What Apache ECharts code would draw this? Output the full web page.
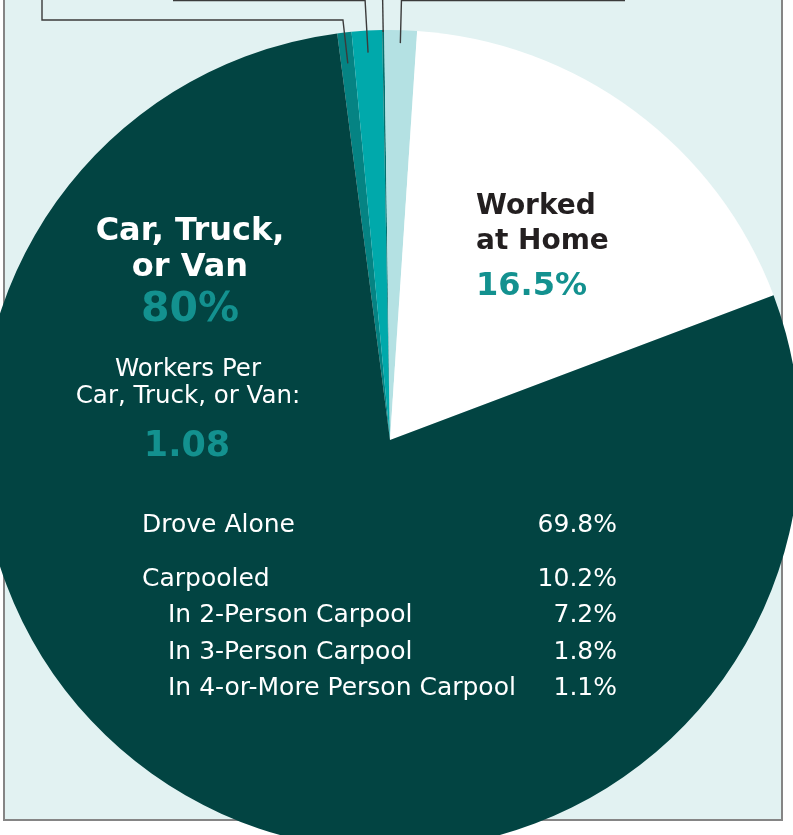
<!DOCTYPE html>
<html>
<head>
<meta charset="utf-8">
<script src="https://cdn.jsdelivr.net/npm/echarts@6/dist/echarts.min.js"></script>
<style>
  html, body { margin: 0; padding: 0; background: #fff; }
  #main { width: 793px; height: 835px; }
</style>
</head>
<body>
<div id="main"></div>
<script>
// slice shares as drawn in the picture (clockwise from just left of 12 o'clock)
const modes = ['Public Transportation', 'Walked', 'Bicycle', 'Taxi, Motorcycle, or Other', 'Worked at Home', 'Car, Truck, or Van'];
const shares = [0.56, 1.19, 0.08, 1.28, 18.2, 78.7];
const sliceColors = ['#058383', '#00a9ab', '#05706f', '#b4e1e3', '#ffffff', '#024442'];

// printed labels
const carLabel = ['Car, Truck,', 'or Van'];
const carPct = '80%';
const homeLabel = ['Worked', 'at Home'];
const homePct = '16.5%';
const perCarLabel = ['Workers Per', 'Car, Truck, or Van:'];
const perCarValue = '1.08';
const breakdownLabels = ['Drove Alone', 'Carpooled', 'In 2-Person Carpool', 'In 3-Person Carpool', 'In 4-or-More Person Carpool'];
const breakdownValues = ['69.8%', '10.2%', '7.2%', '1.8%', '1.1%'];
const breakdownIndent = [false, false, true, true, true];

const cx = 390, cy = 440, R = 410, startDeg = -7.4;
const FONT = '"DejaVu Sans", sans-serif';

let chart = echarts.init(document.getElementById('main'), null, { renderer: 'canvas' });

// mid angle of each slice, degrees clockwise from top
const total = shares.reduce((a, b) => a + b, 0);
let acc = 0;
const mids = shares.map(v => {
  const m = startDeg + (acc + v / 2) / total * 360;
  acc += v;
  return m;
});
const onRay = (deg, r) => {
  const a = deg * Math.PI / 180;
  return [cx + r * Math.sin(a), cy - r * Math.cos(a)];
};
const atY = (deg, y) => onRay(deg, (cy - y) / Math.cos(deg * Math.PI / 180));

const leaderStyle = { stroke: '#3b3b3b', lineWidth: 1.4, fill: null };
const leaders = [
  [onRay(mids[0], 379), atY(mids[0], 20), [42, 20], [42, -5]],
  [onRay(mids[1], 388), atY(mids[1], 0.5), [173, 0.5]],
  [onRay(mids[2], R - 2), atY(mids[2], -5)],
  [onRay(mids[3], 397), atY(mids[3], 0.5), [625, 0.5]]
].map(pts => ({ type: 'polyline', z: 100, silent: true, shape: { points: pts }, style: leaderStyle }));

const txt = (text, x, y, size, color, weight, align) => ({
  type: 'text', z: 100, silent: true, x: x, y: y,
  style: {
    text: text, fill: color, fontSize: size, fontWeight: weight, fontFamily: FONT,
    textAlign: align || 'center', textVerticalAlign: 'middle'
  }
});

const texts = [
  txt(carLabel[0], 190, 232, 32, '#ffffff', 'bold'),
  txt(carLabel[1], 190, 268, 32, '#ffffff', 'bold'),
  txt(carPct, 190, 310, 41, '#13918f', 'bold'),
  txt(perCarLabel[0], 188, 370, 24.5, '#ffffff', 'normal'),
  txt(perCarLabel[1], 188, 397, 24.5, '#ffffff', 'normal'),
  txt(perCarValue, 187, 447, 35, '#13918f', 'bold'),
  txt(homeLabel[0], 476, 207, 28, '#231f20', 'bold', 'left'),
  txt(homeLabel[1], 476, 242, 28, '#231f20', 'bold', 'left'),
  txt(homePct, 476, 287, 32, '#13918f', 'bold', 'left')
];
const rowY = [525.5, 579.5, 615.5, 652, 688.5];
breakdownLabels.forEach((label, i) => {
  texts.push(txt(label, breakdownIndent[i] ? 168 : 142, rowY[i], 25, '#ffffff', 'normal', 'left'));
  texts.push(txt(breakdownValues[i], 617, rowY[i], 25, '#ffffff', 'normal', 'right'));
});

chart.setOption({
  animation: false,
  graphic: [
    {
      type: 'rect', z: -1, silent: true,
      shape: { x: 4, y: -10, width: 778, height: 830 },
      style: { fill: '#e2f2f2', stroke: '#858585', lineWidth: 2 }
    }
  ].concat(leaders, texts),
  series: [
    {
      type: 'pie',
      z: 2,
      center: [cx, cy],
      radius: R,
      startAngle: 90 - startDeg,
      clockwise: true,
      silent: true,
      label: { show: false },
      labelLine: { show: false },
      emphasis: { disabled: true },
      data: modes.map((name, i) => ({
        name: name,
        value: shares[i],
        itemStyle: { color: sliceColors[i], borderWidth: 0 }
      }))
    }
  ]
});
</script>
</body>
</html>
